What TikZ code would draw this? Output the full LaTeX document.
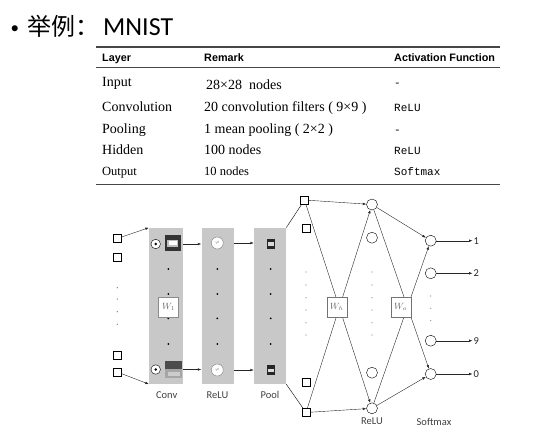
\documentclass[tikz,border=0pt]{standalone}
\usepackage{fontspec}
\setmainfont{Liberation Serif}
\setsansfont{Liberation Sans}
\setmonofont{Liberation Mono}
\newfontfamily\cjk{Noto Sans CJK SC}
\newfontfamily\calib{Carlito}
\usepackage{tikz}
\usetikzlibrary{arrows.meta,positioning,calc}
\definecolor{panelgray}{RGB}{200,200,200}
\definecolor{rulegray}{RGB}{70,70,70}

\begin{document}
\begin{tikzpicture}[x=1pt, y=-1pt,
    panel/.style={fill=panelgray, minimum width=32pt, minimum height=156pt, inner sep=0},
    unit/.style={draw, fill=white, minimum size=8pt, inner sep=0},
    neuron/.style={draw, circle, fill=white, minimum size=11pt, inner sep=0},
    wbox/.style={draw=black!55, fill=white, minimum size=20pt, inner sep=0, text=black!60, font=\fontsize{9}{9}\selectfont},
    arr/.style={-{Latex[length=3.5pt,width=2.6pt]}, black!85},
    lbl/.style={font=\calib\fontsize{10.5}{10.5}\selectfont, text=black!75},
    head/.style={anchor=base west, inner sep=0, font=\sffamily\bfseries\fontsize{10.8}{10.8}\selectfont},
    cell/.style={anchor=base west, inner sep=0, font=\fontsize{14}{14}\selectfont},
    mono/.style={anchor=base west, inner sep=0, font=\ttfamily\fontsize{11}{11}\selectfont}]

    \useasboundingbox (0,0) rectangle (533,437);

    % Title
    \node[anchor=base west, inner sep=0] (bullet) at (10.5,33) {\calib\fontsize{17}{17}\selectfont •};
    \node[anchor=base west, inner sep=0] (title) at (27,35) {\cjk\fontsize{24}{24}\selectfont 举例：};
    \node[anchor=base west, inner sep=0] (mnist) at (103,35) {\calib\fontsize{26}{26}\selectfont MNIST};

    % Table
    \draw[rulegray, line width=1.2pt] (96,47) -- (500,47);
    \draw[rulegray, line width=0.8pt] (96,67) -- (500,67);
    \draw[rulegray, line width=1pt] (96,184) -- (500,184);
    \node[head] (hlayer) at (102,61) {Layer};
    \node[head] (hremark) at (204,61) {Remark};
    \node[head] (hact) at (394,61) {Activation Function};

    \node[cell] (tinput) at (102,86.5) {Input};
    \node[cell] (rinput) at (206,89.3) {28×28~ nodes};
    \node[mono] (ainput) at (394,86.5) {-};
    \node[cell] (tconv) at (102,111.7) {Convolution};
    \node[cell] (rconv) at (204,111.7) {20 convolution filters ( 9×9 )};
    \node[mono] (aconv) at (394,111.7) {ReLU};
    \node[cell] (tpool) at (102,133.3) {Pooling};
    \node[cell] (rpool) at (204,133.3) {1 mean pooling ( 2×2 )};
    \node[mono] (apool) at (394,133.3) {-};
    \node[cell] (thid) at (102,154) {Hidden};
    \node[cell] (rhid) at (204,154) {100 nodes};
    \node[mono] (ahid) at (394,154) {ReLU};
    \node[cell, font=\fontsize{12.5}{12.5}\selectfont] (tout) at (102,175) {Output};
    \node[cell, font=\fontsize{12.5}{12.5}\selectfont] (rout) at (204,175) {10 nodes};
    \node[mono] (aout) at (394,175) {Softmax};

    % Panels
    \node[panel, minimum width=34pt] (conv) at (166,305.9) {};
    \node[panel] (relu) at (217.5,305.9) {};
    \node[panel] (pool) at (270,305.9) {};
    \node[lbl] (lconv) at (166.7,395) {Conv};
    \node[lbl] (lrelu) at (217.5,395) {ReLU};
    \node[lbl] (lpool) at (270,395) {Pool};

    % Input
    \node[unit] (in1) at (117.3,238.5) {};
    \node[unit] (in2) at (117.3,256.7) {};
    \node[unit] (in3) at (117.3,355) {};
    \node[unit] (in4) at (117.3,372) {};
    \foreach \y in {287.7,299,311.7,324.3}
        \fill[black!60] (117.3,\y) circle (0.6pt);
    \draw[arr] (in1) -- (conv.north west);
    \draw[arr] (in4) -- (conv.south west);

    % Conv filters
    \node[draw, circle, fill=white, minimum size=9.5pt, inner sep=0] (f1) at (155.7,244) {};
    \node[draw, circle, fill=white, minimum size=9.5pt, inner sep=0] (f2) at (155.7,369.5) {};
    \fill (f1) circle (1.4pt);
    \fill (f2) circle (1.4pt);
    \fill[black!80] (164.5,235) rectangle (181,251);
    \fill[black!25] (167,240) rectangle (178,247);
    \fill[white] (169,241) rectangle (177,245);
    \fill[black!70] (164.5,361) rectangle (182,378);
    \fill[black!35] (164.5,369) rectangle (182,378);
    \fill[white!80!black] (168,372) rectangle (180,376);
    \foreach \y in {269,294,318.3,344}
        \fill (168.3,\y) circle (1pt);
    \node[wbox, draw=black!45] (w1) at (168.5,307) {$W_1$};

    % ReLU
    \node[neuron, draw=black!50, minimum size=12pt, font=\fontsize{5}{5}\selectfont, text=black!50] (g1) at (217.3,243) {$\varphi$};
    \node[neuron, draw=black!50, minimum size=12pt, font=\fontsize{5}{5}\selectfont, text=black!50] (g2) at (217.3,370) {$\varphi$};
    \foreach \y in {269,294,318.3,344}
        \fill (217.3,\y) circle (1pt);
    \draw[arr] (conv.east |- f1) -- (relu.west |- f1);
    \draw[arr] (conv.east |- f2) -- (relu.west |- f2);

    % Pool
    \fill[black!85] (266.7,239) rectangle (275,249.3);
    \fill[white!85!black] (268,242) rectangle (274,245.5);
    \fill[black!85] (266.7,365) rectangle (275,375);
    \fill[white!85!black] (268,369) rectangle (274,372);
    \foreach \y in {269,294,318.3,344}
        \fill (270.7,\y) circle (1pt);
    \draw[arr] (relu.east |- g1) -- (pool.west |- g1);
    \draw[arr] (relu.east |- g2) -- (pool.west |- g2);

    % Hidden
    \node[unit] (h1) at (304.5,200) {};
    \node[unit] (h2) at (305.7,228.3) {};
    \node[unit] (h3) at (305.7,382.3) {};
    \node[unit] (h4) at (306,412.5) {};
    \node[neuron] (r1) at (372,204.5) {};
    \node[neuron] (r2) at (372,237.7) {};
    \node[neuron] (r3) at (372,372.7) {};
    \node[neuron] (r4) at (372,408.3) {};
    \foreach \y in {272,285,297.7,310,322.7,335} {
        \fill[black!50] (306,\y) circle (0.6pt);
        \fill[black!50] (372,\y) circle (0.6pt);
    }
    \draw (pool.north east) -- (h1);
    \draw (pool.south east) -- (h4);
    \draw[arr] (h1) -- (r1);
    \draw[arr] (h1) -- (r4);
    \draw[arr] (h4) -- (r1);
    \draw[arr] (h4) -- (r4);
    \node[wbox] (wh) at (336.7,306.7) {$W_h$};

    % Output
    \node[neuron] (o1) at (430.7,240.7) {};
    \node[neuron] (o2) at (430.7,273.3) {};
    \node[neuron] (o3) at (430.7,340.7) {};
    \node[neuron] (o4) at (430.7,374) {};
    \foreach \y in {296,308.3,320.7}
        \fill[black!50] (430.7,\y) circle (0.6pt);
    \draw[arr] (r1) -- (o1);
    \draw[arr] (r1) -- (o4);
    \draw[arr] (r4) -- (o1);
    \draw[arr] (r4) -- (o4);
    \node[wbox] (wo) at (400.7,306.7) {$W_o$};

    % Classes
    \node[lbl, anchor=west, inner sep=1pt, text=black!85] (c1) at (472.5,240.7) {1};
    \node[lbl, anchor=west, inner sep=1pt, text=black!85] (c2) at (472.5,273.3) {2};
    \node[lbl, anchor=west, inner sep=1pt, text=black!85] (c9) at (472.5,340.7) {9};
    \node[lbl, anchor=west, inner sep=1pt, text=black!85] (c0) at (472.5,374) {0};
    \draw[arr] (o1) -- (c1);
    \draw[arr] (o2) -- (c2);
    \draw[arr] (o3) -- (c9);
    \draw[arr] (o4) -- (c0);

    \node[lbl] (lhid) at (372,421) {ReLU};
    \node[lbl] (lsoft) at (434,422) {Softmax};

\end{tikzpicture}
\end{document}
